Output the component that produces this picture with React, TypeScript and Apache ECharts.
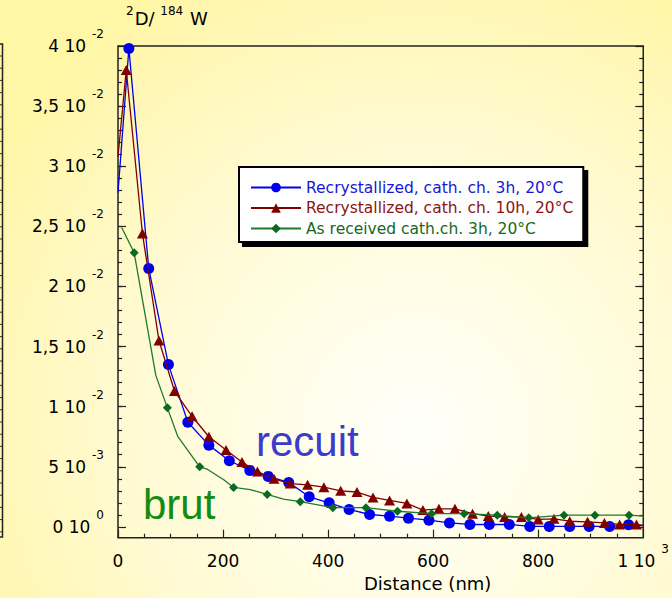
import React, { useEffect, useRef } from 'react';
import * as echarts from 'echarts';

// ---------- data ----------
const seriesNames = [
  'Recrystallized, cath. ch. 3h, 20°C',
  'Recrystallized, cath. ch. 10h, 20°C',
  'As received cath.ch. 3h, 20°C',
];

// Recrystallized 3h (blue circles): measured points
const blueMarkX = [20.7, 58.5, 96, 133, 173, 212, 251, 286, 325, 364, 402, 440, 479, 517, 553, 592, 631, 670, 707, 745, 784, 821, 860, 897, 936, 972];
const blueMarkY = [0.0398, 0.0215, 0.0135, 0.0087, 0.0068, 0.0055, 0.0047, 0.0042, 0.0037, 0.0025, 0.002, 0.00145, 0.00103, 0.00089, 0.00072, 0.00056, 0.00033, 0.0002, 0.0002, 0.0002, 0.00004, 0.00004, 0.00004, 0.00004, 0.00004, 0.00017];
// curve vertices without marker
const blueCurveX = [0, 1000];
const blueCurveY = [0.0278, 0.0001];

// Recrystallized 10h (red triangles)
const redMarkX = [15.7, 46.5, 78, 107.5, 141, 173, 205.7, 236, 265.5, 297, 328, 361, 392, 424, 455, 485.5, 517, 550, 580.5, 611, 641.5, 675, 705, 736, 768, 800, 830, 860, 894, 926, 955, 987];
const redMarkY = [0.038, 0.0244, 0.0155, 0.0113, 0.0092, 0.0075, 0.0064, 0.0054, 0.0046, 0.004, 0.0036, 0.0035, 0.0033, 0.003, 0.0029, 0.00245, 0.0022, 0.00195, 0.0014, 0.0015, 0.0015, 0.0011, 0.0009, 0.00083, 0.00083, 0.00062, 0.00067, 0.00047, 0.00042, 0.00033, 0.0002, 0.0002];
const redCurveX = [0, 1000];
const redCurveY = [0.0308, 0.00012];

// As received (green diamonds)
const greenMarkX = [30.8, 94, 155.5, 220, 284, 347, 409, 472, 532, 597, 659, 722, 782, 849, 908, 973];
const greenMarkY = [0.0228, 0.0099, 0.005, 0.00328, 0.0027, 0.0021, 0.0016, 0.0016, 0.0013, 0.0011, 0.0011, 0.00097, 0.00075, 0.00097, 0.00097, 0.00097];
const greenCurveX = [7, 72, 114, 170, 202, 252, 315, 1000];
const greenCurveY = [0.0249, 0.0126, 0.0075, 0.0048, 0.0039, 0.0031, 0.0023, 0.00089];

// axis ticks
const xTickValues = [0, 200, 400, 600, 800, 1000];
const xTickMantissa = ['0', '200', '400', '600', '800', '1 10'];
const xTickExponent = ['', '', '', '', '', '3'];

const yTickValues = [0, 0.005, 0.01, 0.015, 0.02, 0.025, 0.03, 0.035, 0.04];
const yTickMantissa = ['0 10', '5 10', '1 10', '1,5 10', '2 10', '2,5 10', '3 10', '3,5 10', '4 10'];
const yTickExponent = ['0', '-3', '-2', '-2', '-2', '-2', '-2', '-2', '-2'];
const yMinorStep = 0.001;

const xName = 'Distance (nm)';
const yTitleIsotope1 = '2';
const yTitleElem1 = 'D/ ';
const yTitleIsotope2 = '184';
const yTitleElem2 = ' W';
const noteRecuit = 'recuit';
const noteBrut = 'brut';

// ---------- helpers ----------
function buildData(mx: number[], my: number[], cx: number[], cy: number[]) {
  const items: any[] = [];
  mx.forEach((x, i) => items.push({ value: [x, my[i]] }));
  cx.forEach((x, i) => items.push({ value: [x, cy[i]], symbol: 'none' }));
  items.sort((a, b) => a.value[0] - b.value[0]);
  return items;
}

const FONT = '"DejaVu Sans", "Liberation Sans", sans-serif';
const BIGFONT = '"Liberation Sans", Arial, sans-serif';
const BLUE = '#0000ee';
const RED = '#800000';
const GREEN = '#0b6a22';

const rich = {
  m: { fontSize: 17, fontFamily: FONT, color: '#000', lineHeight: 36 },
  s: { fontSize: 12, fontFamily: FONT, color: '#000', verticalAlign: 'top', padding: [0, 0, 0, 6] },
};

function supLabel(m: string, e: string) {
  return e ? `{m|${m}}{s|${e}}` : `{m|${m}}`;
}

const yMinorValues: number[] = [];
for (let i = 1; i * yMinorStep < 0.04 - 1e-9; i++) {
  const v = Math.round(i * yMinorStep * 1e6) / 1e6;
  yMinorValues.push(v);
}

const Y_MIN = -0.0009;
const Y_MAX = 0.04;

function App() {
  const ref = useRef<HTMLDivElement>(null);
  useEffect(() => {
    document.body.style.margin = '0';
    const chart = echarts.init(ref.current!, null, { renderer: 'svg' });

    const tickStyle = { color: '#222', width: 1.2 };
    const baseY = {
      type: 'value',
      min: Y_MIN,
      max: Y_MAX,
      splitLine: { show: false },
      axisLine: { show: false, onZero: false },
    };

    const stripTicks: any[] = [];
    for (let y = 56; y < 532; y += 12.2) {
      stripTicks.push({
        type: 'line',
        shape: { x1: 0, y1: y, x2: 2.5, y2: y },
        style: { stroke: '#333', lineWidth: 1 },
        silent: true,
      });
    }

    const option: any = {
      animation: false,
      backgroundColor: 'transparent',
      textStyle: { fontFamily: FONT },
      grid: {
        left: 118,
        right: 24,
        top: 46,
        bottom: 60.3,
        show: true,
        borderColor: '#222',
        borderWidth: 1.5,
        backgroundColor: 'transparent',
      },
      legend: {
        orient: 'vertical',
        left: 239,
        top: 167,
        padding: [12, 10, 5, 11],
        itemWidth: 50,
        itemHeight: 12,
        itemGap: 3.5,
        backgroundColor: '#fff',
        borderColor: '#000',
        borderWidth: 2,
        borderRadius: 0,
        shadowColor: '#000',
        shadowBlur: 0,
        shadowOffsetX: 4,
        shadowOffsetY: 4,
        selectedMode: false,
        textStyle: { fontSize: 15.5, fontFamily: FONT, lineHeight: 17 },
        data: [
          { name: seriesNames[0], textStyle: { color: '#1616d8' } },
          { name: seriesNames[1], textStyle: { color: '#8a1414' } },
          { name: seriesNames[2], textStyle: { color: '#16691c' } },
        ],
      },
      xAxis: [
        {
          type: 'value',
          min: 0,
          max: 1000,
          interval: 200,
          position: 'bottom',
          axisLine: { show: false, onZero: false },
          axisTick: { inside: true, length: 8, lineStyle: tickStyle },
          minorTick: { show: true, splitNumber: 4, length: 4, lineStyle: tickStyle },
          splitLine: { show: false },
          axisLabel: {
            margin: 5,
            formatter: (v: number) => {
              const i = xTickValues.indexOf(v);
              return i >= 0 ? supLabel(xTickMantissa[i], xTickExponent[i]) : '';
            },
            rich,
          },
          name: xName,
          nameLocation: 'middle',
          nameGap: 33,
          nameTextStyle: { fontSize: 18, color: '#000', fontFamily: FONT, padding: [0, 0, 0, 94] },
        },
      ],
      yAxis: [
        {
          ...baseY,
          position: 'left',
          axisTick: { inside: true, length: 8, lineStyle: tickStyle, customValues: yTickValues },
          axisLabel: {
            margin: 14,
            customValues: yTickValues,
            formatter: (v: number) => {
              let idx = -1;
              yTickValues.forEach((t, i) => { if (Math.abs(t - v) < 1e-7) idx = i; });
              return idx >= 0 ? supLabel(yTickMantissa[idx], yTickExponent[idx]) : '';
            },
            rich,
          },
        },
        {
          ...baseY,
          position: 'left',
          axisTick: { inside: true, length: 4, lineStyle: tickStyle, customValues: yMinorValues },
          axisLabel: { show: false },
        },
        {
          ...baseY,
          position: 'right',
          axisTick: { inside: true, length: 8, lineStyle: tickStyle, customValues: yTickValues },
          axisLabel: { show: false },
        },
        {
          ...baseY,
          position: 'right',
          axisTick: { inside: true, length: 4, lineStyle: tickStyle, customValues: yMinorValues },
          axisLabel: { show: false },
        },
      ],
      series: [
        {
          type: 'line',
          name: seriesNames[0],
          data: buildData(blueMarkX, blueMarkY, blueCurveX, blueCurveY),
          symbol: 'circle',
          symbolSize: 11,
          itemStyle: { color: BLUE },
          lineStyle: { color: BLUE, width: 1.3 },
          z: 3,
        },
        {
          type: 'line',
          name: seriesNames[1],
          data: buildData(redMarkX, redMarkY, redCurveX, redCurveY),
          symbol: 'triangle',
          symbolSize: [11, 10],
          itemStyle: { color: RED },
          lineStyle: { color: RED, width: 1.3 },
          z: 4,
        },
        {
          type: 'line',
          name: seriesNames[2],
          data: buildData(greenMarkX, greenMarkY, greenCurveX, greenCurveY),
          symbol: 'diamond',
          symbolSize: 9,
          itemStyle: { color: GREEN },
          lineStyle: { color: '#1f7a2a', width: 1.3 },
          z: 5,
        },
      ],
      graphic: [
        {
          type: 'text',
          left: 126,
          top: 5,
          style: {
            text: `{s|${yTitleIsotope1}}{m|${yTitleElem1}}{s|${yTitleIsotope2}}{m|${yTitleElem2}}`,
            rich: {
              m: { fontSize: 18, fontFamily: FONT, fill: '#000', lineHeight: 30 },
              s: { fontSize: 12, fontFamily: FONT, fill: '#000', verticalAlign: 'top', padding: [2, 1, 0, 0] },
            },
          },
        },
        {
          type: 'text',
          x: 256,
          y: 441,
          style: { text: noteRecuit, fontSize: 42, fontFamily: BIGFONT, fill: '#3b3bcc', verticalAlign: 'middle' },
        },
        {
          type: 'text',
          x: 143,
          y: 504,
          style: { text: noteBrut, fontSize: 42, fontFamily: BIGFONT, fill: '#128c12', verticalAlign: 'middle' },
        },
        {
          type: 'polyline',
          shape: { points: [[0, 44], [2.5, 44], [2.5, 537], [0, 537]] },
          style: { stroke: '#222', lineWidth: 1.5, fill: 'none' },
          silent: true,
        },
        ...stripTicks,
      ],
    };

    chart.setOption(option);
    return () => chart.dispose();
  }, []);

  return (
    <div
      ref={ref}
      style={{
        width: 672,
        height: 598,
        background:
          'radial-gradient(ellipse 75% 85% at 62% 72%, #fffffb 0%, #fffde6 30%, #fffad0 60%, #fff6a6 100%)',
      }}
    />
  );
}

export default App;
